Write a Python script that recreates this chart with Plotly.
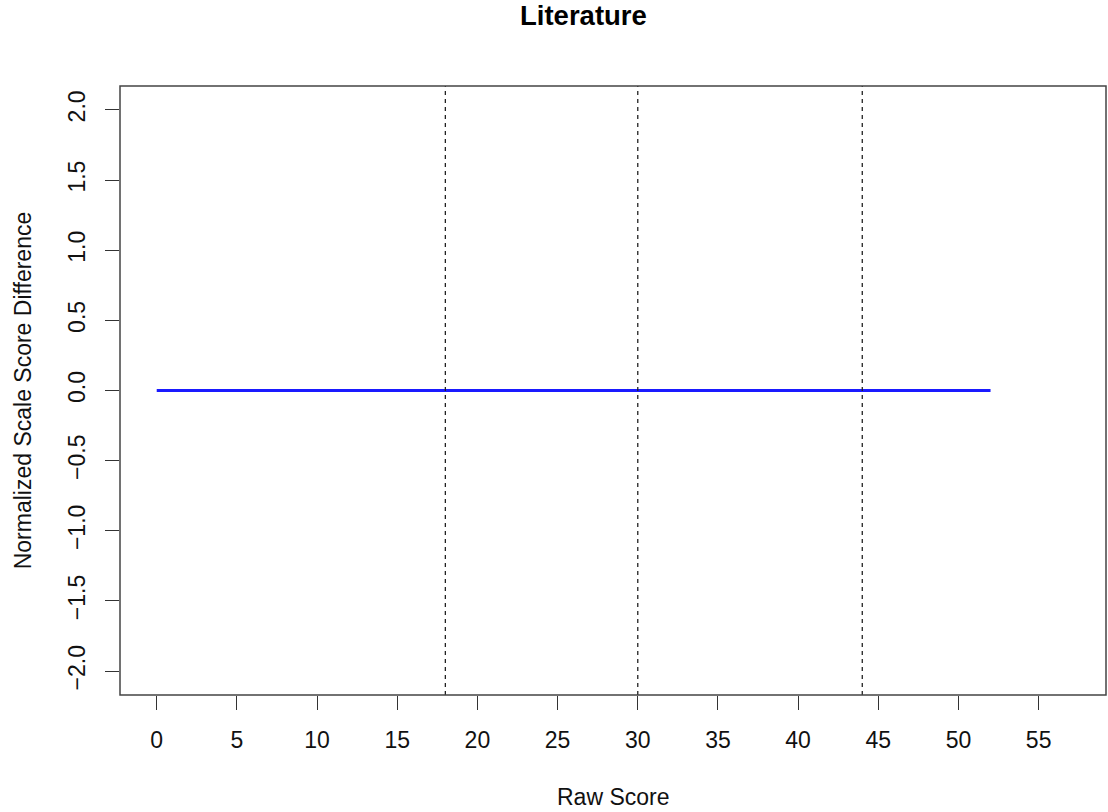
import plotly.graph_objects as go

# Data
raw_score = [0, 1, 2, 3, 4, 5, 6, 7, 8, 9, 10, 11, 12, 13, 14, 15, 16, 17, 18, 19, 20,
             21, 22, 23, 24, 25, 26, 27, 28, 29, 30, 31, 32, 33, 34, 35, 36, 37, 38, 39,
             40, 41, 42, 43, 44, 45, 46, 47, 48, 49, 50, 51, 52]
score_diff = [0.0, 0.0, 0.0, 0.0, 0.0, 0.0, 0.0, 0.0, 0.0, 0.0, 0.0, 0.0, 0.0, 0.0,
              0.0, 0.0, 0.0, 0.0, 0.0, 0.0, 0.0, 0.0, 0.0, 0.0, 0.0, 0.0, 0.0, 0.0,
              0.0, 0.0, 0.0, 0.0, 0.0, 0.0, 0.0, 0.0, 0.0, 0.0, 0.0, 0.0, 0.0, 0.0,
              0.0, 0.0, 0.0, 0.0, 0.0, 0.0, 0.0, 0.0, 0.0, 0.0, 0.0]
cut_scores = [18, 30, 44]
x_ticks = [0, 5, 10, 15, 20, 25, 30, 35, 40, 45, 50, 55]
y_ticks = [-2.0, -1.5, -1.0, -0.5, 0.0, 0.5, 1.0, 1.5, 2.0]
y_ticklabels = ["\u22122.0", "\u22121.5", "\u22121.0", "\u22120.5", "0.0", "0.5", "1.0", "1.5", "2.0"]

FONT = "Liberation Sans, Arial, Helvetica, sans-serif"
W, H = 1108, 812
L, R, T, B = 120, 2, 86, 117
PW = W - L - R

fig = go.Figure()
fig.add_trace(go.Scatter(x=raw_score, y=score_diff, mode="lines",
                         line=dict(color="#1A1AFF", width=2.8), showlegend=False,
                         hoverinfo="x+y"))

for c in cut_scores:
    fig.add_shape(type="line", xref="x", yref="paper", x0=c, x1=c, y0=0, y1=1,
                  line=dict(color="#222222", width=1.3, dash="4px,4px"))

# plot box
fig.add_shape(type="rect", xref="paper", yref="paper", x0=0, x1=1, y0=0, y1=1,
              line=dict(color="#444444", width=1.5))

fig.update_layout(
    width=W, height=H,
    margin=dict(l=L, r=R, t=T, b=B, pad=0),
    paper_bgcolor="white", plot_bgcolor="white",
    font=dict(family=FONT, size=23, color="#111111"),
    xaxis=dict(range=[-2.29, 59.2], tickvals=x_ticks, ticks="outside", ticklen=14,
               tickwidth=1.2, tickcolor="#333333", showgrid=False, zeroline=False,
               showline=False, ticklabelstandoff=10, tickfont=dict(size=23)),
    yaxis=dict(range=[-2.17, 2.17], tickvals=y_ticks, ticktext=y_ticklabels,
               ticks="outside", ticklen=14, tickwidth=1.2, tickcolor="#333333",
               showgrid=False, zeroline=False, showline=False, tickangle=-90,
               ticklabelstandoff=11, tickfont=dict(size=23)),
    annotations=[
        dict(text="<b>Literature</b>", xref="paper", yref="paper",
             x=(583 - L) / PW, y=1, yshift=86 - 15, xanchor="center", yanchor="middle",
             showarrow=False, font=dict(size=27.5, color="black", family=FONT)),
        dict(text="Raw Score", xref="paper", yref="paper", x=0.5, y=0,
             yshift=-(797 - 695), xanchor="center", yanchor="middle",
             showarrow=False, font=dict(size=23, color="#111111", family=FONT)),
        dict(text="Normalized Scale Score Difference", xref="paper", yref="paper",
             x=0, y=(695 - 390.8) / (695 - 86), xshift=-(120 - 22.5), xanchor="center",
             yanchor="middle", textangle=-90, showarrow=False,
             font=dict(size=23, color="#111111", family=FONT)),
    ],
)

fig.write_html("out.html", config={"displayModeBar": False},
               post_script="document.body.style.margin='0';document.body.style.overflow='hidden';")
